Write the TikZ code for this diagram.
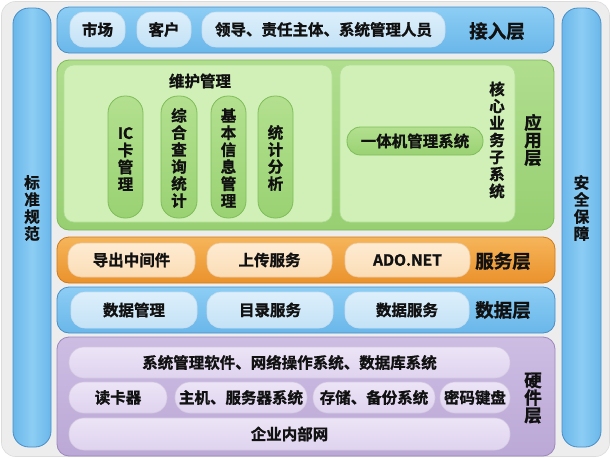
\documentclass[tikz,border=0pt]{standalone}
\usepackage{fontspec}
\setmainfont{Noto Sans CJK SC Bold}[FakeBold=1.2]
\definecolor{bgc}{HTML}{EDEDED}
\definecolor{bgd}{HTML}{DCDCDC}
\definecolor{blueT}{HTML}{8CCDF4}
\definecolor{blueB}{HTML}{6AB7EA}
\definecolor{blueD}{HTML}{4A8EC6}
\definecolor{bluePT}{HTML}{DDEFFB}
\definecolor{bluePB}{HTML}{C3E2F6}
\definecolor{greenT}{HTML}{B0DE8E}
\definecolor{greenB}{HTML}{98CF72}
\definecolor{greenD}{HTML}{7DBB55}
\definecolor{greenP}{HTML}{D0F0B8}
\definecolor{greenPD}{HTML}{B4DE97}
\definecolor{greenQT}{HTML}{B3E08F}
\definecolor{greenQB}{HTML}{9AD273}
\definecolor{greenQD}{HTML}{7FBD58}
\definecolor{orT}{HTML}{F6B55A}
\definecolor{orB}{HTML}{EA922C}
\definecolor{orD}{HTML}{CF7A1C}
\definecolor{orPT}{HTML}{FEEBD2}
\definecolor{orPB}{HTML}{FBDDB6}
\definecolor{puT}{HTML}{CDBDE3}
\definecolor{puB}{HTML}{BBA8D6}
\definecolor{puD}{HTML}{9C88BC}
\definecolor{puPT}{HTML}{ECE4F6}
\definecolor{puPB}{HTML}{DFD3EF}
\definecolor{ink}{HTML}{111111}
\tikzset{
  base/.style={inner sep=0pt, outer sep=0pt, text=ink},
  bgbox/.style={base, rounded corners=14pt, fill=bgc, draw=bgd, line width=0.6pt},
  sidebar/.style={base, rounded corners=16pt, draw=blueD, line width=0.8pt, left color=blueB, right color=blueB, middle color=blueT},
  blueband/.style={base, rounded corners=12pt, draw=blueD, line width=0.8pt, top color=blueT, bottom color=blueB},
  greenband/.style={base, rounded corners=12pt, draw=greenD, line width=0.8pt, top color=greenT, bottom color=greenB},
  orband/.style={base, rounded corners=12pt, draw=orD, line width=0.8pt, top color=orT, bottom color=orB},
  puband/.style={base, rounded corners=12pt, draw=puD, line width=0.8pt, top color=puT, bottom color=puB},
  gpanel/.style={base, rounded corners=10pt, fill=greenP, draw=greenPD, line width=0.6pt},
  ptxt/.style={font=\fontsize{15.5}{17}\selectfont},
  lbl/.style={base, font=\fontsize{18.5}{20}\selectfont},
  vtxt/.style={base, align=center, font=\fontsize{15.5}{17}\selectfont},
  vlbl/.style={base, align=center, font=\fontsize{17.5}{17.5}\selectfont},
  bpill/.style={base, ptxt, rounded corners=14pt, draw=white!70!blueD, line width=0.6pt, top color=bluePT, bottom color=bluePB},
  opill/.style={base, ptxt, rounded corners=13pt, draw=white!60!orD, line width=0.6pt, top color=orPT, bottom color=orPB},
  ppill/.style={base, ptxt, rounded corners=15pt, draw=white!55!puD, line width=0.6pt, top color=puPT, bottom color=puPB},
  gpill/.style={base, rounded corners=17pt, draw=greenQD, line width=0.8pt, top color=greenQT, bottom color=greenQB},
  ghpill/.style={base, ptxt, rounded corners=13.5pt, draw=greenQD, line width=0.8pt, top color=greenQT, bottom color=greenQB}
}
\begin{document}
\begin{tikzpicture}[x=1pt,y=-1pt]
\useasboundingbox (0,0) rectangle (611,458);
\fill[white] (0,0) rectangle (611,458);
\node[bgbox, minimum width=608pt, minimum height=455pt] (bg) at (305.5,229) {};

% side bars
\node[sidebar, minimum width=38pt, minimum height=439pt] (left) at (32,227.5) {};
\node[vtxt] (lefttxt) at (32,208) {标\\准\\规\\范};
\node[sidebar, minimum width=39pt, minimum height=439pt] (right) at (581.5,227.5) {};
\node[vtxt] (righttxt) at (581.5,208) {安\\全\\保\\障};

% access layer
\node[blueband, minimum width=497pt, minimum height=46pt] (access) at (305.5,30) {};
\node[bpill, minimum width=55pt, minimum height=35pt] (market) at (97.5,29.5) {市场};
\node[bpill, minimum width=54pt, minimum height=35pt] (client) at (164,29.5) {客户};
\node[bpill, minimum width=243pt, minimum height=35pt] (leader) at (323.5,29.5) {领导、责任主体、系统管理人员};
\node[lbl] (accesslbl) at (497,31) {接入层};

% application layer
\node[greenband, minimum width=497pt, minimum height=170pt] (app) at (305.5,145) {};
\node[gpanel, minimum width=268pt, minimum height=157pt] (maint) at (198,143.5) {};
\node[base, ptxt] (mainttitle) at (200,81) {维护管理};
\node[gpill, minimum width=35pt, minimum height=122pt] (ic) at (125.5,157) {};
\node[vtxt] (ictxt) at (125.5,159) {IC\\卡\\管\\理};
\node[gpill, minimum width=36pt, minimum height=122pt] (query) at (179,157) {};
\node[vtxt] (querytxt) at (179,158) {综\\合\\查\\询\\统\\计};
\node[gpill, minimum width=35pt, minimum height=122pt] (info) at (228.5,157) {};
\node[vtxt] (infotxt) at (228.5,158) {基\\本\\信\\息\\管\\理};
\node[gpill, minimum width=35pt, minimum height=122pt] (stat) at (275.5,157) {};
\node[vtxt] (stattxt) at (275.5,158) {统\\计\\分\\析};
\node[gpanel, minimum width=175pt, minimum height=157pt] (core) at (427.5,143.5) {};
\node[ghpill, minimum width=136pt, minimum height=28pt] (aio) at (415,141) {一体机管理系统};
\node[vtxt] (coretxt) at (497,140) {核\\心\\业\\务\\子\\系\\统};
\node[vlbl] (applbl) at (533,140) {应\\用\\层};

% service layer
\node[orband, minimum width=498pt, minimum height=46pt] (service) at (306,260) {};
\node[opill, minimum width=127pt, minimum height=34pt] (export) at (131.5,260) {导出中间件};
\node[opill, minimum width=125pt, minimum height=34pt] (upload) at (269.5,260) {上传服务};
\node[opill, minimum width=125pt, minimum height=34pt] (ado) at (407.5,260) {ADO.NET};
\node[lbl] (servicelbl) at (503,261) {服务层};

% data layer
\node[blueband, minimum width=498pt, minimum height=46pt] (data) at (306,310) {};
\node[bpill, minimum width=126pt, minimum height=36pt] (datamgmt) at (134,310) {数据管理};
\node[bpill, minimum width=126pt, minimum height=36pt] (dir) at (270,310) {目录服务};
\node[bpill, minimum width=124pt, minimum height=36pt] (datasvc) at (407,310) {数据服务};
\node[lbl] (datalbl) at (503,310) {数据层};

% hardware layer
\node[puband, minimum width=498pt, minimum height=119pt] (hw) at (306,396.5) {};
\node[ppill, minimum width=441pt, minimum height=31pt] (sw) at (289.5,362.5) {系统管理软件、网络操作系统、数据库系统};
\node[ppill, minimum width=98pt, minimum height=31pt] (reader) at (118,397.5) {读卡器};
\node[ppill, minimum width=132pt, minimum height=31pt] (host) at (241,397.5) {主机、服务器系统};
\node[ppill, minimum width=122pt, minimum height=31pt] (store) at (374,397.5) {存储、备份系统};
\node[ppill, minimum width=70pt, minimum height=31pt] (pin) at (475,397.5) {密码键盘};
\node[ppill, minimum width=441pt, minimum height=32pt] (lan) at (289.5,434) {企业内部网};
\node[vlbl] (hwlbl) at (533,398) {硬\\件\\层};
\end{tikzpicture}
\end{document}
